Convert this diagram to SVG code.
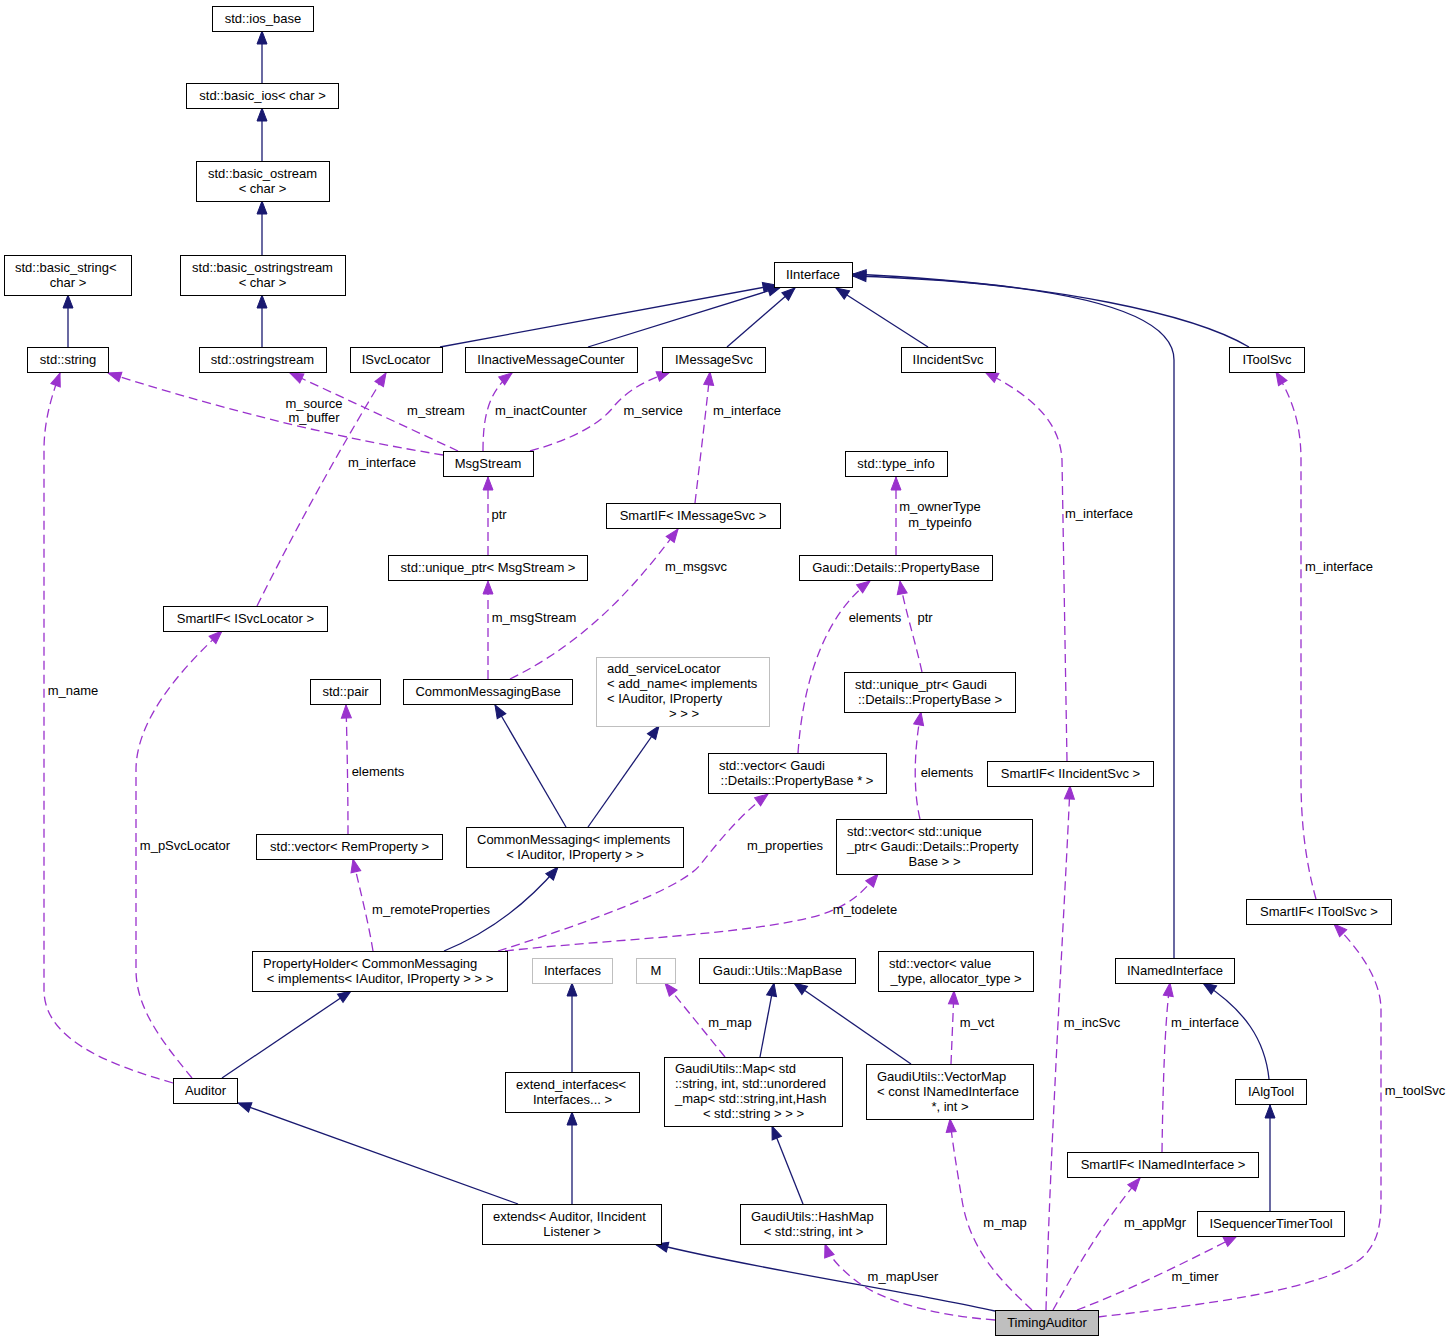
<svg xmlns="http://www.w3.org/2000/svg" width="1453" height="1341" viewBox="0 0 1453 1341">
<style>
text{font-family:"Liberation Sans",Arial,sans-serif;font-size:13px;fill:#000}
.n rect{fill:#fff;stroke:#000;stroke-width:1}
.g rect{fill:#fff;stroke:#bfbfbf;stroke-width:1}
.cur rect{fill:#bfbfbf;stroke:#000;stroke-width:1}
.c{text-anchor:middle}
.inh{fill:none;stroke:#191970;stroke-width:1.3;marker-end:url(#ah)}
.use{fill:none;stroke:#9a32cd;stroke-width:1.3;stroke-dasharray:9,5;marker-end:url(#ap)}
.lbl text{text-anchor:middle}
</style>
<defs>
<marker id="ah" markerUnits="userSpaceOnUse" markerWidth="14" markerHeight="11" refX="13" refY="5" orient="auto" overflow="visible">
<path d="M0,0 L13,5 L0,10 Z" fill="#191970" stroke="#191970" stroke-width="1"/>
</marker>
<marker id="ap" markerUnits="userSpaceOnUse" markerWidth="14" markerHeight="11" refX="13" refY="5" orient="auto" overflow="visible">
<path d="M0,0 L13,5 L0,10 Z" fill="#9a32cd" stroke="#9a32cd" stroke-width="1"/>
</marker>
</defs>
<rect width="1453" height="1341" fill="#fff"/>

<g id="edges">
<path class="inh" d="M262,83 V31"/>
<path class="inh" d="M262,161 V108"/>
<path class="inh" d="M262,255 V201"/>
<path class="inh" d="M262,347 V295"/>
<path class="inh" d="M68,347 V295"/>
<path class="inh" d="M440,347 L776,285"/>
<path class="inh" d="M588,347 L781,287"/>
<path class="inh" d="M727,347 L795,288"/>
<path class="inh" d="M928,347 L836,288"/>
<path class="inh" d="M1174,958 V360 C1174,305 1040,282 853,276"/>
<path class="inh" d="M1249,347 C1195,315 1060,284 853,274"/>
<path class="inh" d="M566,827 L495,705"/>
<path class="inh" d="M588,827 L659,726"/>
<path class="inh" d="M444,951 C495,930 530,900 558,867"/>
<path class="inh" d="M222,1078 L351,991"/>
<path class="inh" d="M572,1072 V983"/>
<path class="inh" d="M760,1057 L774,983"/>
<path class="inh" d="M911,1064 L794,983"/>
<path class="inh" d="M1269,1079 C1265,1040 1245,1010 1203,983"/>
<path class="inh" d="M1270,1211 V1105"/>
<path class="inh" d="M518,1204 L238,1103"/>
<path class="inh" d="M572,1204 V1112"/>
<path class="inh" d="M803,1204 L772,1126"/>
<path class="inh" d="M995,1311 C900,1290 750,1268 655,1244"/>

<path class="use" d="M443,455 C350,440 240,415 108,373"/>
<path class="use" d="M458,451 L290,373"/>
<path class="use" d="M257,606 C300,520 345,440 386,373"/>
<path class="use" d="M483,451 C483,420 487,392 512,373"/>
<path class="use" d="M530,451 C570,440 600,425 615,405 C630,388 648,380 670,372"/>
<path class="use" d="M695,503 C700,460 705,420 710,372"/>
<path class="use" d="M488,555 V477"/>
<path class="use" d="M488,679 V581"/>
<path class="use" d="M510,679 C590,640 640,580 678,529"/>
<path class="use" d="M896,555 V477"/>
<path class="use" d="M798,753 C803,680 825,615 870,581"/>
<path class="use" d="M922,672 C915,640 905,610 900,581"/>
<path class="use" d="M920,819 C913,790 914,750 921,712"/>
<path class="use" d="M373,951 C368,920 360,890 353,859"/>
<path class="use" d="M348,834 C348,790 347,740 346,705"/>
<path class="use" d="M498,951 C580,925 680,890 700,865 C720,840 740,815 768,794"/>
<path class="use" d="M505,951 C600,940 750,935 820,915 C850,905 862,893 878,874"/>
<path class="use" d="M173,1083 C110,1065 44,1040 44,990 L44,450 C44,420 52,395 60,373"/>
<path class="use" d="M192,1078 C165,1045 136,1010 136,970 L136,770 C136,720 180,670 222,631"/>
<path class="use" d="M1046,1310 C1050,1150 1065,900 1070,786"/>
<path class="use" d="M1067,761 L1062,460 C1060,420 1030,395 985,372"/>
<path class="use" d="M1316,899 C1305,860 1301,820 1301,780 L1301,460 C1301,420 1290,395 1276,372"/>
<path class="use" d="M995,1320 C930,1315 880,1300 855,1280 C840,1268 830,1258 825,1244"/>
<path class="use" d="M1032,1310 C1000,1280 970,1250 962,1200 C957,1170 952,1140 950,1119"/>
<path class="use" d="M1053,1310 C1070,1280 1100,1225 1140,1178"/>
<path class="use" d="M1162,1152 C1163,1080 1165,1020 1170,983"/>
<path class="use" d="M1077,1310 C1130,1290 1190,1260 1237,1236"/>
<path class="use" d="M1098,1317 C1200,1305 1330,1290 1365,1255 C1378,1240 1381,1225 1381,1200 L1381,1010 C1381,980 1360,950 1334,924"/>
<path class="use" d="M725,1057 L665,983"/>
<path class="use" d="M951,1064 L954,991"/>

<g class="lbl">
<text x="314" y="408">m_source</text>
<text x="314" y="422">m_buffer</text>
<text x="436" y="415">m_stream</text>
<text x="382" y="467">m_interface</text>
<text x="541" y="415">m_inactCounter</text>
<text x="653" y="415">m_service</text>
<text x="747" y="415">m_interface</text>
<text x="499" y="519">ptr</text>
<text x="534" y="622">m_msgStream</text>
<text x="696" y="571">m_msgsvc</text>
<text x="940" y="511">m_ownerType</text>
<text x="940" y="527">m_typeinfo</text>
<text x="875" y="622">elements</text>
<text x="925" y="622">ptr</text>
<text x="947" y="777">elements</text>
<text x="431" y="914">m_remoteProperties</text>
<text x="378" y="776">elements</text>
<text x="785" y="850">m_properties</text>
<text x="865" y="914">m_todelete</text>
<text x="73" y="695">m_name</text>
<text x="185" y="850">m_pSvcLocator</text>
<text x="1092" y="1027">m_incSvc</text>
<text x="1099" y="518">m_interface</text>
<text x="1339" y="571">m_interface</text>
<text x="903" y="1281">m_mapUser</text>
<text x="1005" y="1227">m_map</text>
<text x="1155" y="1227">m_appMgr</text>
<text x="1205" y="1027">m_interface</text>
<text x="1195" y="1281">m_timer</text>
<text x="1415" y="1095">m_toolSvc</text>
<text x="730" y="1027">m_map</text>
<text x="977" y="1027">m_vct</text>
</g>
</g>

<g id="n_ios_base" class="n"><rect x="212.5" y="6.5" width="101" height="25"/><text class="c" x="263" y="23">std::ios_base</text></g>
<g id="n_basic_ios" class="n"><rect x="186.5" y="83.5" width="152" height="25"/><text class="c" x="262.5" y="100">std::basic_ios&lt; char &gt;</text></g>
<g id="n_basic_ostream" class="n"><rect x="196.5" y="161.5" width="133" height="40"/><text class="c" x="262.5" y="177.5">std::basic_ostream</text><text class="c" x="262.5" y="192.5">&lt; char &gt;</text></g>
<g id="n_basic_string" class="n"><rect x="4.5" y="255.5" width="127" height="40"/><text x="15" y="271.5">std::basic_string&lt;</text><text class="c" x="68" y="286.5">char &gt;</text></g>
<g id="n_basic_ostringstream" class="n"><rect x="180.5" y="255.5" width="165" height="40"/><text class="c" x="262.5" y="271.5">std::basic_ostringstream</text><text class="c" x="262.5" y="286.5">&lt; char &gt;</text></g>
<g id="n_string" class="n"><rect x="27.5" y="347.5" width="81" height="25"/><text class="c" x="68" y="364">std::string</text></g>
<g id="n_ostringstream" class="n"><rect x="199.5" y="347.5" width="127" height="25"/><text class="c" x="262.5" y="364">std::ostringstream</text></g>
<g id="n_ISvcLocator" class="n"><rect x="350.5" y="347.5" width="92" height="25"/><text class="c" x="396" y="364">ISvcLocator</text></g>
<g id="n_IInactiveMessageCounter" class="n"><rect x="465.5" y="347.5" width="172" height="25"/><text class="c" x="551" y="364">IInactiveMessageCounter</text></g>
<g id="n_IMessageSvc" class="n"><rect x="662.5" y="347.5" width="103" height="25"/><text class="c" x="714" y="364">IMessageSvc</text></g>
<g id="n_IIncidentSvc" class="n"><rect x="901.5" y="347.5" width="94" height="25"/><text class="c" x="948" y="364">IIncidentSvc</text></g>
<g id="n_IToolSvc" class="n"><rect x="1229.5" y="347.5" width="75" height="25"/><text class="c" x="1267" y="364">IToolSvc</text></g>
<g id="n_IInterface" class="n"><rect x="774.5" y="262.5" width="78" height="25"/><text class="c" x="813" y="279">IInterface</text></g>
<g id="n_MsgStream" class="n"><rect x="443.5" y="451.5" width="90" height="25"/><text class="c" x="488" y="468">MsgStream</text></g>
<g id="n_type_info" class="n"><rect x="845.5" y="451.5" width="102" height="25"/><text class="c" x="896" y="468">std::type_info</text></g>
<g id="n_SmartIF_IMessageSvc" class="n"><rect x="606.5" y="503.5" width="174" height="25"/><text class="c" x="693" y="520">SmartIF&lt; IMessageSvc &gt;</text></g>
<g id="n_unique_ptr_MsgStream" class="n"><rect x="388.5" y="555.5" width="199" height="25"/><text class="c" x="488" y="572">std::unique_ptr&lt; MsgStream &gt;</text></g>
<g id="n_PropertyBase" class="n"><rect x="799.5" y="555.5" width="193" height="25"/><text class="c" x="896" y="572">Gaudi::Details::PropertyBase</text></g>
<g id="n_SmartIF_ISvcLocator" class="n"><rect x="163.5" y="606.5" width="164" height="25"/><text class="c" x="245.5" y="623">SmartIF&lt; ISvcLocator &gt;</text></g>
<g id="n_pair" class="n"><rect x="310.5" y="679.5" width="70" height="25"/><text class="c" x="345.5" y="696">std::pair</text></g>
<g id="n_CommonMessagingBase" class="n"><rect x="403.5" y="679.5" width="169" height="25"/><text class="c" x="488" y="696">CommonMessagingBase</text></g>
<g id="n_add_serviceLocator" class="g"><rect x="596.5" y="657.5" width="173" height="69"/><text x="607" y="673">add_serviceLocator</text><text x="607" y="688">&lt; add_name&lt; implements</text><text x="607" y="703">&lt; IAuditor, IProperty</text><text class="c" x="684" y="718">&gt; &gt; &gt;</text></g>
<g id="n_unique_ptr_PropertyBase" class="n"><rect x="844.5" y="672.5" width="171" height="40"/><text x="855" y="688.5">std::unique_ptr&lt; Gaudi</text><text class="c" x="930" y="703.5">::Details::PropertyBase &gt;</text></g>
<g id="n_vector_PropertyBase" class="n"><rect x="708.5" y="753.5" width="178" height="40"/><text x="719" y="769.5">std::vector&lt; Gaudi</text><text class="c" x="797" y="784.5">::Details::PropertyBase * &gt;</text></g>
<g id="n_SmartIF_IIncidentSvc" class="n"><rect x="987.5" y="761.5" width="166" height="25"/><text class="c" x="1070.5" y="778">SmartIF&lt; IIncidentSvc &gt;</text></g>
<g id="n_vector_RemProperty" class="n"><rect x="256.5" y="834.5" width="186" height="25"/><text class="c" x="349.5" y="851">std::vector&lt; RemProperty &gt;</text></g>
<g id="n_CommonMessaging" class="n"><rect x="466.5" y="827.5" width="217" height="40"/><text x="477" y="843.5">CommonMessaging&lt; implements</text><text class="c" x="575" y="858.5">&lt; IAuditor, IProperty &gt; &gt;</text></g>
<g id="n_vector_unique_ptr" class="n"><rect x="836.5" y="819.5" width="196" height="55"/><text x="847" y="835.5">std::vector&lt; std::unique</text><text x="847" y="850.5">_ptr&lt; Gaudi::Details::Property</text><text class="c" x="934.5" y="865.5">Base &gt; &gt;</text></g>
<g id="n_SmartIF_IToolSvc" class="n"><rect x="1246.5" y="899.5" width="145" height="25"/><text class="c" x="1319" y="916">SmartIF&lt; IToolSvc &gt;</text></g>
<g id="n_PropertyHolder" class="n"><rect x="252.5" y="951.5" width="255" height="40"/><text x="263" y="967.5">PropertyHolder&lt; CommonMessaging</text><text class="c" x="380" y="982.5">&lt; implements&lt; IAuditor, IProperty &gt; &gt; &gt;</text></g>
<g id="n_Interfaces" class="g"><rect x="532.5" y="958.5" width="80" height="25"/><text class="c" x="572.5" y="975">Interfaces</text></g>
<g id="n_M" class="g"><rect x="636.5" y="958.5" width="39" height="25"/><text class="c" x="656" y="975">M</text></g>
<g id="n_MapBase" class="n"><rect x="699.5" y="958.5" width="156" height="25"/><text class="c" x="777.5" y="975">Gaudi::Utils::MapBase</text></g>
<g id="n_vector_value_type" class="n"><rect x="878.5" y="951.5" width="155" height="40"/><text x="889" y="967.5">std::vector&lt; value</text><text class="c" x="956" y="982.5">_type, allocator_type &gt;</text></g>
<g id="n_INamedInterface" class="n"><rect x="1115.5" y="958.5" width="119" height="25"/><text class="c" x="1175" y="975">INamedInterface</text></g>
<g id="n_Auditor" class="n"><rect x="173.5" y="1078.5" width="64" height="25"/><text class="c" x="205.5" y="1095">Auditor</text></g>
<g id="n_extend_interfaces" class="n"><rect x="505.5" y="1072.5" width="134" height="40"/><text x="516" y="1088.5">extend_interfaces&lt;</text><text class="c" x="572.5" y="1103.5">Interfaces... &gt;</text></g>
<g id="n_GaudiUtils_Map" class="n"><rect x="664.5" y="1057.5" width="178" height="69"/><text x="675" y="1073">GaudiUtils::Map&lt; std</text><text x="675" y="1088">::string, int, std::unordered</text><text x="675" y="1103">_map&lt; std::string,int,Hash</text><text class="c" x="753.5" y="1118">&lt; std::string &gt; &gt; &gt;</text></g>
<g id="n_VectorMap" class="n"><rect x="866.5" y="1064.5" width="167" height="55"/><text x="877" y="1080.5">GaudiUtils::VectorMap</text><text x="877" y="1095.5">&lt; const INamedInterface</text><text class="c" x="950" y="1110.5">*, int &gt;</text></g>
<g id="n_IAlgTool" class="n"><rect x="1235.5" y="1079.5" width="71" height="25"/><text class="c" x="1271" y="1096">IAlgTool</text></g>
<g id="n_SmartIF_INamedInterface" class="n"><rect x="1067.5" y="1152.5" width="191" height="25"/><text class="c" x="1163" y="1169">SmartIF&lt; INamedInterface &gt;</text></g>
<g id="n_ISequencerTimerTool" class="n"><rect x="1197.5" y="1211.5" width="147" height="25"/><text class="c" x="1271" y="1228">ISequencerTimerTool</text></g>
<g id="n_extends" class="n"><rect x="482.5" y="1204.5" width="179" height="40"/><text x="493" y="1220.5">extends&lt; Auditor, IIncident</text><text class="c" x="572" y="1235.5">Listener &gt;</text></g>
<g id="n_HashMap" class="n"><rect x="740.5" y="1204.5" width="146" height="40"/><text x="751" y="1220.5">GaudiUtils::HashMap</text><text class="c" x="813.5" y="1235.5">&lt; std::string, int &gt;</text></g>
<g id="n_TimingAuditor" class="cur"><rect x="995.5" y="1310.5" width="103" height="25"/><text class="c" x="1047" y="1327">TimingAuditor</text></g>
</svg>
